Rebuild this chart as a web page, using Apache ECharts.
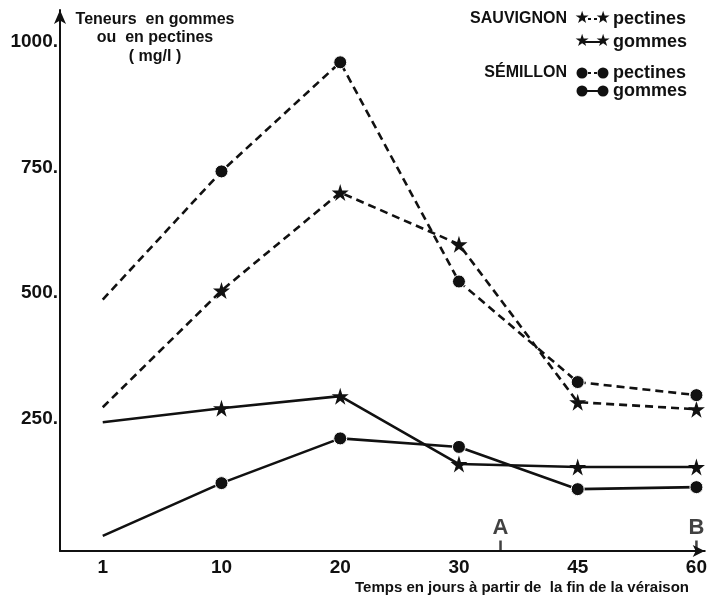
<!DOCTYPE html>
<html><head><meta charset="utf-8">
<script src="https://cdn.jsdelivr.net/npm/echarts@6/dist/echarts.min.js"></script>
<style>html,body{margin:0;padding:0;background:#fff}#c{width:710px;height:598px}</style>
</head><body><div id="c"></div>
<script>
const days = ['1', '10', '20', '30', '45', '60'];
const sauvignonPectines = [286, 518, 713, 610, 296, 282];
const sauvignonGommes = [256, 284, 308, 173, 167, 167];
const semillonPectines = [500, 755, 972, 536, 336, 310];
const semillonGommes = [30, 135, 224, 207, 123, 127];
const yTicks = [250, 500, 750, 1000];
const markerNames = ['A', 'B'];
const markerPos = [3.35, 5];

const FONT = '"Liberation Sans Narrow", "Liberation Sans", Arial, sans-serif';
const STAR = 'path://M50,0 L61,35 L98,35 L68,57 L79,91 L50,70 L21,91 L32,57 L2,35 L39,35 Z';

function mk(vals) {
  return vals.map((v, i) => i === 0 ? { value: [i, v], symbol: 'none' } : [i, v]);
}
function lineSeries(name, vals, dashed, star) {
  return {
    name, type: 'line', data: mk(vals),
    symbol: star ? STAR : 'circle',
    symbolSize: star ? 17 : 13,
    showAllSymbol: true,
    lineStyle: { color: '#111', width: 2.6, type: dashed ? [8, 5] : 'solid' },
    itemStyle: { color: '#111', borderColor: '#fff', borderWidth: star ? 0 : 1 },
    z: 3, animation: false
  };
}

const chart = echarts.init(document.getElementById('c'), null, { renderer: 'canvas' });

const legendX = 582, legendX2 = 603;
function legendRow(y, dashed, star, label) {
  const els = [];
  els.push({ type: 'line', shape: { x1: legendX, y1: y, x2: legendX2, y2: y },
    style: { stroke: '#111', lineWidth: 2, lineDash: dashed ? [3, 3] : null } });
  [legendX, legendX2].forEach(x => {
    if (star) {
      els.push({ type: 'text', x: x, y: y, style: { text: '★', font: '17px DejaVu Sans', fill: '#111', align: 'center', verticalAlign: 'middle' } });
    } else {
      els.push({ type: 'circle', shape: { cx: x, cy: y, r: 5.5 }, style: { fill: '#111' } });
    }
  });
  els.push({ type: 'text', x: 613, y: y, style: { text: label, font: 'bold 18px ' + FONT, fill: '#111', verticalAlign: 'middle' } });
  return els;
}

const graphics = [
  { type: 'text', x: 155, y: 20, style: { text: 'Teneurs  en gommes', font: 'bold 16px ' + FONT, fill: '#111', align: 'center', verticalAlign: 'middle' } },
  { type: 'text', x: 155, y: 38, style: { text: 'ou  en pectines', font: 'bold 16px ' + FONT, fill: '#111', align: 'center', verticalAlign: 'middle' } },
  { type: 'text', x: 155, y: 57, style: { text: '( mg/l )', font: 'bold 16px ' + FONT, fill: '#111', align: 'center', verticalAlign: 'middle' } },
  { type: 'text', x: 567, y: 19, style: { text: 'SAUVIGNON', font: 'bold 16px ' + FONT, fill: '#111', align: 'right', verticalAlign: 'middle' } },
  { type: 'text', x: 567, y: 73, style: { text: 'SÉMILLON', font: 'bold 16px ' + FONT, fill: '#111', align: 'right', verticalAlign: 'middle' } },
  ...legendRow(19, true, true, 'pectines'),
  ...legendRow(42, false, true, 'gommes'),
  ...legendRow(73, true, false, 'pectines'),
  ...legendRow(91, false, false, 'gommes'),
  { type: 'text', x: 522, y: 588, style: { text: 'Temps en jours à partir de  la fin de la véraison', font: 'bold 15px ' + FONT, fill: '#111', align: 'center', verticalAlign: 'middle' } }
];

chart.setOption({
  backgroundColor: '#fff',
  animation: false,
  grid: { left: 60, right: 0, top: 10, bottom: 47 },
  xAxis: {
    type: 'value', min: -0.36, max: 5.07,
    splitLine: { show: false },
    axisLine: { show: true, onZero: false, symbol: ['none', 'arrow'], symbolSize: [9, 12], lineStyle: { color: '#111', width: 2 } },
    axisTick: { show: false },
    axisLabel: {
      customValues: days.map((d, i) => i),
      formatter: v => days[Math.round(v)] ?? '',
      margin: 7, color: '#111', fontFamily: FONT, fontWeight: 'bold', fontSize: 19
    }
  },
  yAxis: {
    type: 'value', min: 0, max: 1076,
    splitLine: { show: false },
    axisLine: { show: true, onZero: false, symbol: ['none', 'arrow'], symbolSize: [9, 14], lineStyle: { color: '#111', width: 2 } },
    axisTick: { show: false },
    axisLabel: {
      customValues: yTicks,
      formatter: v => v + '.',
      margin: 2, color: '#111', fontFamily: FONT, fontWeight: 'bold', fontSize: 19,
      verticalAlign: 'bottom', padding: [0, 0, -3, 0]
    }
  },
  series: [
    lineSeries('Sauvignon pectines', sauvignonPectines, true, true),
    lineSeries('Sauvignon gommes', sauvignonGommes, false, true),
    lineSeries('Sémillon pectines', semillonPectines, true, false),
    lineSeries('Sémillon gommes', semillonGommes, false, false),
    {
      type: 'scatter', name: 'repères',
      data: markerNames.map((n, i) => ({ name: n, value: [markerPos[i], 0] })),
      symbol: 'rect', symbolSize: [2.5, 11], symbolOffset: [0, -5],
      itemStyle: { color: '#111' },
      label: { show: true, position: 'top', distance: 2, formatter: p => p.name, color: '#111', fontFamily: FONT, fontWeight: 'bold', fontSize: 22 },
      silent: true, z: 2
    }
  ],
  graphic: graphics
});
</script>
</body></html>
